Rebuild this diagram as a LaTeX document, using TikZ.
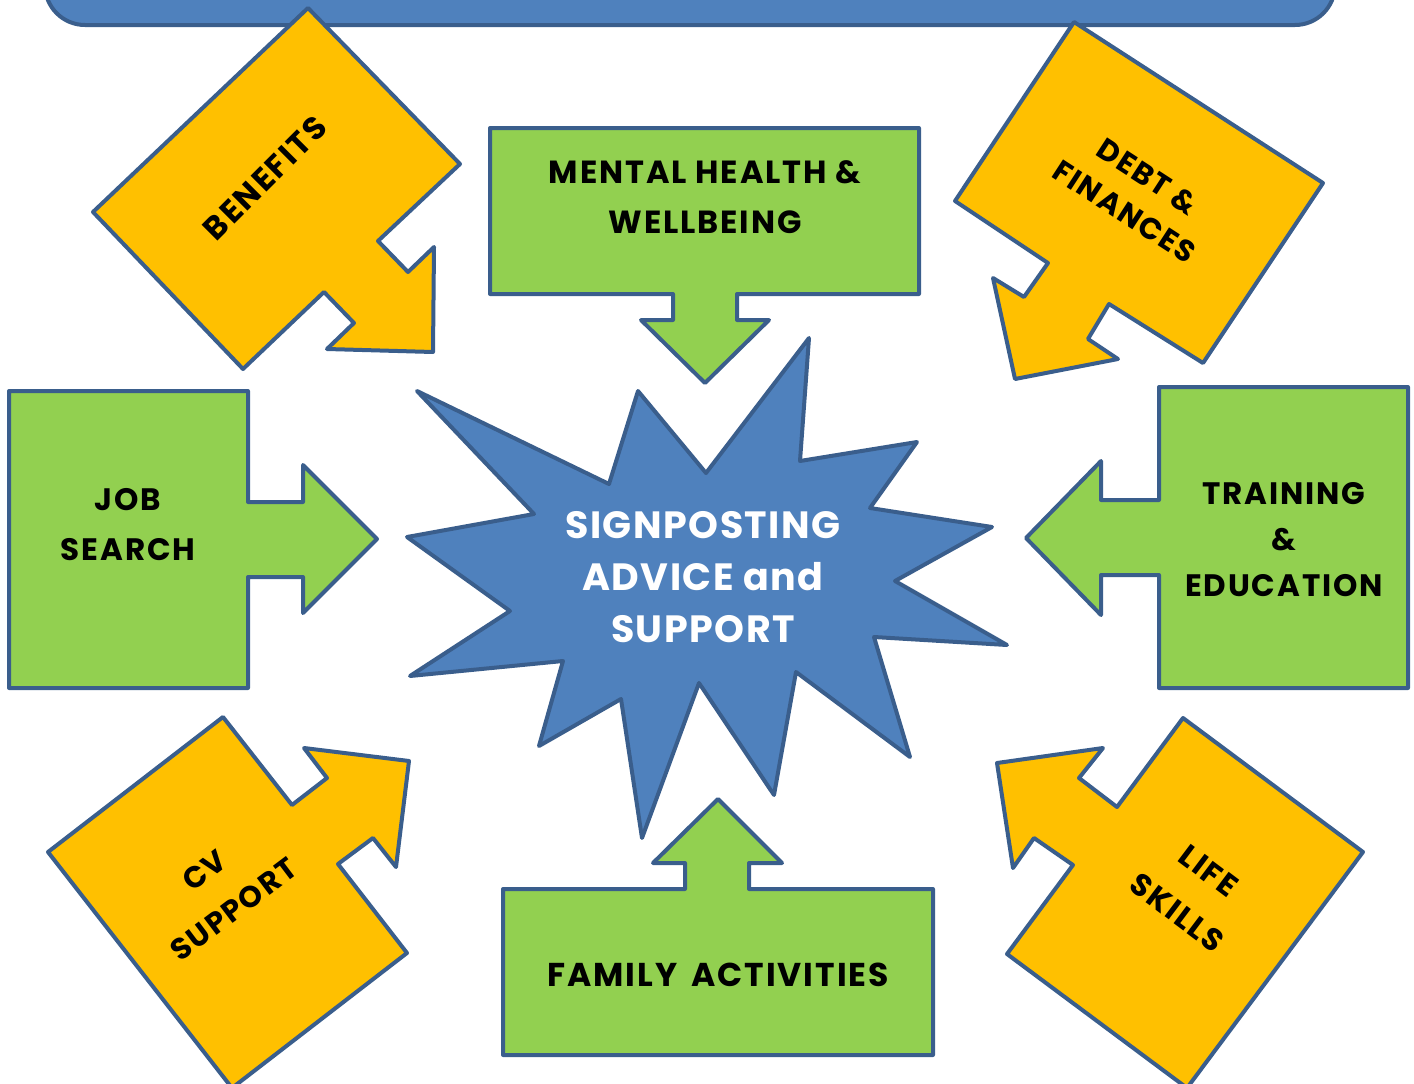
\documentclass[tikz,border=0pt]{standalone}
\usepackage{fontspec}
\setmainfont{Poppins}
\newfontfamily\widefont[LetterSpace=6]{Poppins}
\newfontfamily\starfont[LetterSpace=4]{Poppins}
\definecolor{edgeblue}{RGB}{58,94,140}
\definecolor{fillblue}{RGB}{79,129,189}
\definecolor{boxgreen}{RGB}{146,208,80}
\definecolor{boxorange}{RGB}{255,192,0}
\begin{document}
\begin{tikzpicture}[x=1pt,y=-1pt,line join=round,
  shp/.style={draw=edgeblue,line width=4pt},
  greenshape/.style={shp,fill=boxgreen},
  orangeshape/.style={shp,fill=boxorange},
  starshape/.style={shp,fill=fillblue},
  boxtxt/.style={font=\widefont\fontsize{31}{50}\selectfont\bfseries,align=center,text=black,inner sep=0pt},
  orangetxt/.style={align=center,text=black,inner sep=0pt},
  startxt/.style={font=\starfont\fontsize{38}{52}\selectfont\bfseries,align=center,text=white,inner sep=0pt}]
\useasboundingbox (0,0) rectangle (1414,1084);
\clip (0,0) rectangle (1414,1084);
% banner
\draw[starshape,rounded corners=40pt] (45,-90) rectangle (1335,25);
% orange arrows
\draw[orangeshape] (308,8) -- (460,164) -- (378,241) -- (408,272) -- (434,247) -- (433,352) -- (327,349) -- (354,323) -- (324,292) -- (243,369) -- (93,212) -- cycle;
\node[orangetxt,rotate=45,font=\widefont\fontsize{32}{44}\selectfont\bfseries] (benefits) at (265,178) {BENEFITS};
\draw[orangeshape] (1074,22) -- (1323,183) -- (1203,363) -- (1109,304) -- (1088,339) -- (1118,359) -- (1015,379) -- (993,278) -- (1024,297) -- (1048,263) -- (955,201) -- cycle;
\node[orangetxt,rotate=-33,font=\widefont\fontsize{30}{42}\selectfont\bfseries] (debt) at (1136,194) {DEBT \&\\FINANCES};
\draw[orangeshape] (223,717) -- (292,805) -- (327,778) -- (304,748) -- (409,761) -- (396,867) -- (373,838) -- (338,864) -- (407,953) -- (232,1088) -- (48,852) -- cycle;
\node[orangetxt,rotate=37,font=\widefont\fontsize{30}{49}\selectfont\bfseries] (cv) at (219,890) {CV\\SUPPORT};
\draw[orangeshape] (1183,718) -- (1363,852) -- (1187,1088) -- (1007,954) -- (1073,865) -- (1034,838) -- (1013,868) -- (997,763) -- (1103,748) -- (1079,778) -- (1117,807) -- cycle;
\node[orangetxt,rotate=-37,font=\widefont\fontsize{31}{52}\selectfont\bfseries] (life) at (1193,892) {LIFE\\SKILLS};
% green arrows
\draw[greenshape] (490,128) -- (919,128) -- (919,294) -- (737,294) -- (737,320) -- (769,320) -- (705,383) -- (641,320) -- (673,320) -- (673,294) -- (490,294) -- cycle;
\node[boxtxt,font=\widefont\fontsize{32}{50}\selectfont\bfseries] (mental) at (705,197) {MENTAL HEALTH \&\\WELLBEING};
\draw[greenshape] (503,889) -- (685,889) -- (685,863) -- (653,863) -- (718,799) -- (782,863) -- (749,863) -- (749,889) -- (933,889) -- (933,1055) -- (503,1055) -- cycle;
\node[boxtxt,font=\widefont\fontsize{33}{50}\selectfont\bfseries] (family) at (718,975) {FAMILY\hspace{14pt}ACTIVITIES};
\draw[greenshape] (9,391) -- (248,391) -- (248,502) -- (303,502) -- (303,465) -- (377,539) -- (303,613) -- (303,577) -- (248,577) -- (248,688) -- (9,688) -- cycle;
\node[boxtxt] (job) at (128,525) {JOB\\SEARCH};
\draw[greenshape] (1159,387) -- (1408,387) -- (1408,688) -- (1159,688) -- (1159,575) -- (1101,575) -- (1101,615) -- (1026,538) -- (1101,461) -- (1101,500) -- (1159,500) -- cycle;
\node[boxtxt,font=\widefont\fontsize{31}{46}\selectfont\bfseries] (training) at (1284,540) {TRAINING\\\&\\EDUCATION};
% star
\draw[starshape] (417,391) -- (609,484) -- (638,391) -- (706,473) -- (809,338) -- (800,461) -- (917,442) -- (870,508) -- (992,527) -- (895,581) -- (1007,645) -- (874,637) -- (910,757) -- (796,672) -- (774,795) -- (699,683) -- (642,838) -- (621,699) -- (539,746) -- (563,661) -- (410,676) -- (510,611) -- (407,537) -- (534,514) -- cycle;
\node[startxt] (centre) at (703,577) {SIGNPOSTING\\ADVICE and\\SUPPORT};
\end{tikzpicture}
\end{document}
